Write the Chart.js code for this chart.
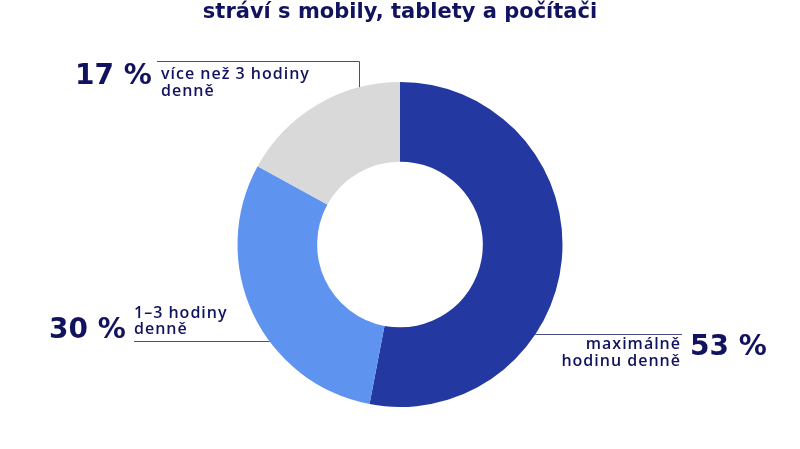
<!DOCTYPE html>
<html lang="cs">
<head>
<meta charset="utf-8">
<script src="https://cdn.jsdelivr.net/npm/chart.js@4/dist/chart.umd.min.js"></script>
<style>
  html, body { margin: 0; padding: 0; background: #fff; }
  canvas { display: block; }
</style>
</head>
<body>
<canvas id="screenChart" width="800" height="449"></canvas>
<script>
// podíly času stráveného u obrazovek
const categories = ['maximálně hodinu denně', '1–3 hodiny denně', 'více než 3 hodiny denně'];
const shares = [53, 30, 17];
const labelLines = [['maximálně', 'hodinu denně'], ['1–3 hodiny', 'denně'], ['více než 3 hodiny', 'denně']];
const sliceColors = ['#2338a0', '#5f93f0', '#d9d9d9'];
const titleText = 'stráví s mobily, tablety a počítači';

const NAVY = '#12135f';
const LINE = '#4b4d86';
const FONT = '"DejaVu Sans", sans-serif';
const LABEL_FONT = '"Open Sans", sans-serif';

// y na kružnici pro dané x (horní/dolní polovina)
function circleY(cx, cy, r, x, upper) {
    const d = Math.sqrt(Math.max(r * r - (x - cx) * (x - cx), 0));
    return upper ? cy - d : cy + d;
}
function circleX(cx, cy, r, y, right) {
    const d = Math.sqrt(Math.max(r * r - (y - cy) * (y - cy), 0));
    return right ? cx + d : cx - d;
}

const labelsPlugin = {
    id: 'labelsPlugin',
    afterDraw(chart) {
        const ctx = chart.ctx;
        const arc = chart.getDatasetMeta(0).data[0];
        const cx = arc.x, cy = arc.y, r = arc.outerRadius;

        ctx.save();
        // titulek
        ctx.fillStyle = NAVY;
        ctx.font = `bold 21px ${FONT}`;
        ctx.textAlign = 'center';
        ctx.textBaseline = 'alphabetic';
        ctx.fillText(titleText, 400, 18);

        // vodicí čáry
        ctx.strokeStyle = LINE;
        ctx.lineWidth = 1;
        ctx.beginPath();
        // 17 %
        ctx.moveTo(157, 61.5);
        ctx.lineTo(359.5, 61.5);
        ctx.lineTo(359.5, circleY(cx, cy, r, 359.5, true));
        // 30 %
        ctx.moveTo(134, 341.5);
        ctx.lineTo(circleX(cx, cy, r, 341.5, false), 341.5);
        // 53 %
        ctx.moveTo(circleX(cx, cy, r, 334.5, true), 334.5);
        ctx.lineTo(682, 334.5);
        ctx.stroke();

        // procenta
        ctx.font = `bold 28px ${FONT}`;
        ctx.textAlign = 'left';
        ctx.fillText(shares[2] + ' %', 75, 84);
        ctx.fillText(shares[1] + ' %', 49, 338);
        ctx.fillText(shares[0] + ' %', 690, 355);

        // popisky
        ctx.font = `600 16px ${LABEL_FONT}`;
        ctx.letterSpacing = '1px';
        ctx.fillText(labelLines[2][0], 161, 79);
        ctx.fillText(labelLines[2][1], 161, 96);
        ctx.fillText(labelLines[1][0], 134, 318);
        ctx.fillText(labelLines[1][1], 134, 334);
        ctx.textAlign = 'right';
        ctx.fillText(labelLines[0][0], 681, 349);
        ctx.fillText(labelLines[0][1], 681, 366);
        ctx.restore();
    }
};

new Chart(document.getElementById('screenChart'), {
    type: 'doughnut',
    data: {
        labels: categories,
        datasets: [{
            data: shares,
            backgroundColor: sliceColors,
            borderWidth: 0
        }]
    },
    options: {
        responsive: false,
        animation: false,
        cutout: '51%',
        layout: {padding: {top: 82, bottom: 42, left: 0, right: 0}},
        plugins: {
            legend: {display: false},
            tooltip: {enabled: false},
            title: {display: false}
        }
    },
    plugins: [labelsPlugin]
});
</script>
</body>
</html>
